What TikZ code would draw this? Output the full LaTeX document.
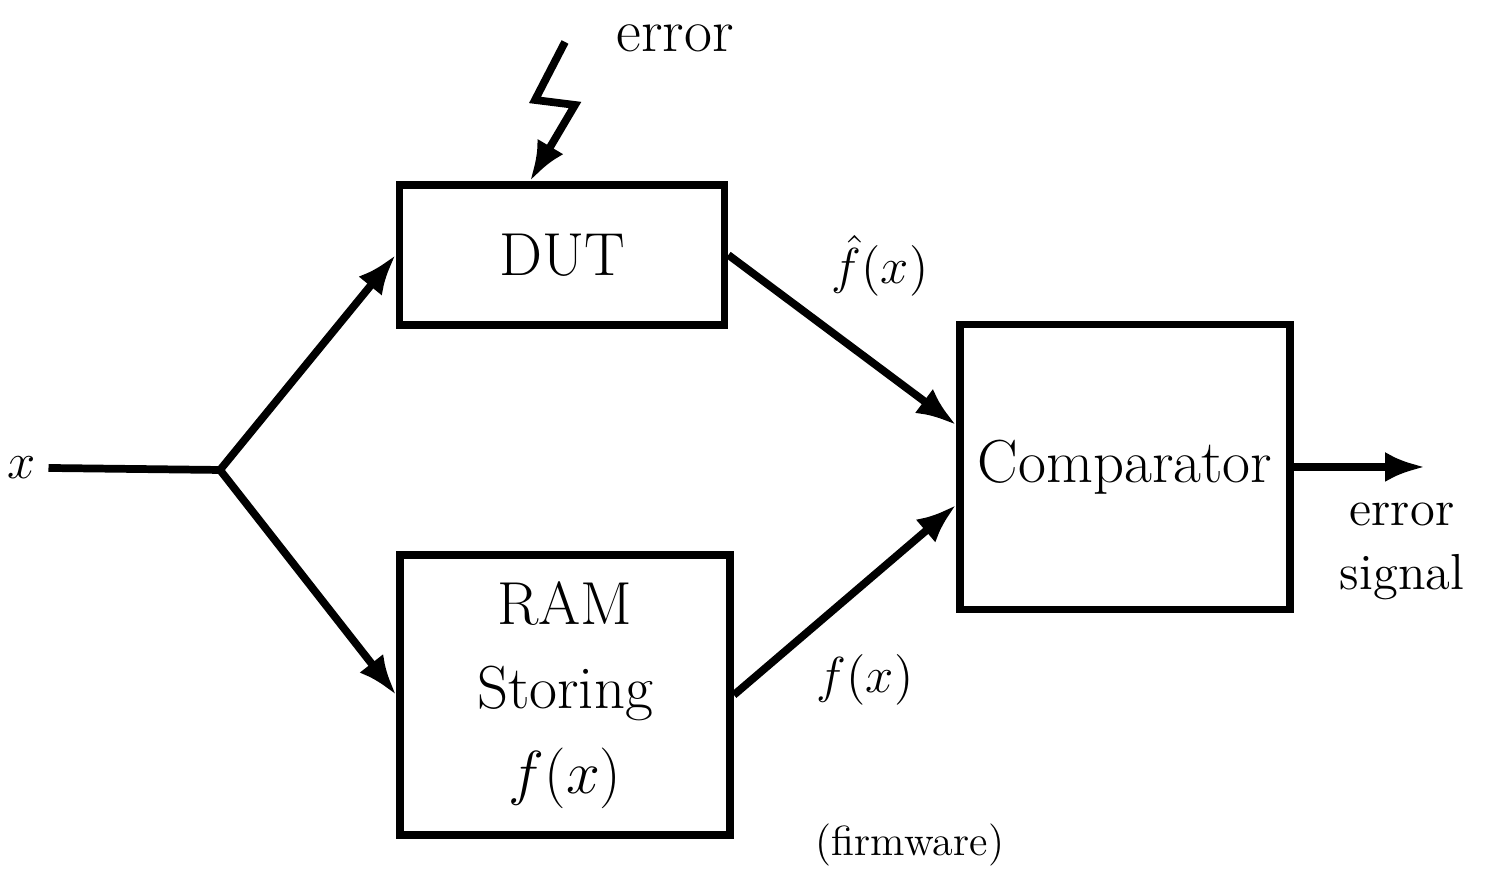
\documentclass[tikz,border=0pt]{standalone}
\usepackage{tikz}
\usetikzlibrary{arrows.meta,calc}

\tikzset{
    blk/.style={draw, line width=2.2pt, minimum width=#1},
    flow/.style={line width=2.2pt, -{Latex[length=4mm,width=3mm]}},
    lbl/.style={font=\Large},
}

\begin{document}
\begin{tikzpicture}
    \useasboundingbox (0, 0) rectangle (14.86, 8.76);
    \node[blk=3.25cm, minimum height=1.4cm, font=\LARGE] (dut) at (5.62, 6.21) {DUT};
    \node[blk=3.3cm, minimum height=2.8cm, font=\LARGE, align=center] (ram) at (5.65, 1.81) {RAM\\[2pt] Storing\\[2pt] $f(x)$};
    \node[blk=3.3cm, minimum height=2.85cm, font=\LARGE] (comp) at (11.25, 4.09) {Comparator};
    \node[lbl, anchor=center] (x) at (0.22, 4.08) {$x$};
    \coordinate (split) at (2.2, 4.06);
    \coordinate (out) at (14.25, 4.09);
    \draw[line width=2.2pt] (x.east) -- (split);
    \draw[flow] (split) -- (dut.west);
    \draw[flow] (split) -- (ram.west);
    \draw[flow] (dut.east) -- ($(comp.west) + (0, 0.42)$);
    \draw[flow] (ram.east) -- ($(comp.west) + (0, -0.38)$);
    \draw[flow] (comp.east) -- (out);
    % fault injected into the DUT
    \node[font=\LARGE, anchor=center] (err) at (6.75, 8.38) {error};
    \coordinate (zig) at (5.65, 8.34);
    \draw[flow] (zig) -- (5.35, 7.76) -- (5.75, 7.71) -- ($(dut.north) + (-0.32, 0)$);
    \node[lbl, anchor=north, align=center] (errsig) at (14.02, 3.85) {error\\ signal};
    \node[lbl, anchor=center] (fhat) at (8.8, 6.1) {$\hat{f}(x)$};
    \node[lbl, anchor=center] (fx) at (8.65, 1.96) {$f(x)$};
    \node[font=\large, anchor=center] (fw) at (9.1, 0.31) {(firmware)};
\end{tikzpicture}
\end{document}
